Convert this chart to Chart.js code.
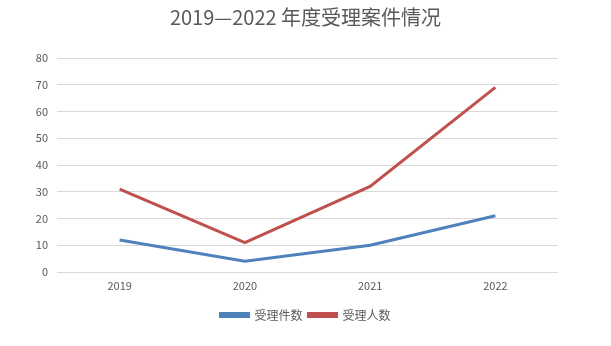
<!DOCTYPE html>
<html>
<head>
<meta charset="utf-8">
<script src="https://cdn.jsdelivr.net/npm/chart.js@4/dist/chart.umd.min.js"></script>
<style>
  html, body { margin: 0; padding: 0; background: #fff; }
  #wrap { width: 611px; height: 346px; }
</style>
</head>
<body>
<div id="wrap"><canvas id="caseChart" width="611" height="346"></canvas></div>
<script>
var years = ["2019", "2020", "2021", "2022"];
var caseCount = [12, 4, 10, 21];
var personCount = [31, 11, 32, 69];
var yTicks = [0, 10, 20, 30, 40, 50, 60, 70, 80];

var fontFamily = "'Noto Sans CJK SC', 'Noto Sans', sans-serif";

new Chart("caseChart", {
    type: "line",
    data: {
        labels: years,
        datasets: [{
            label: "受理件数",
            data: caseCount,
            borderColor: "#4F81BD",
            backgroundColor: "#4F81BD",
            borderWidth: 3,
            pointRadius: 0,
            tension: 0,
            fill: false
        }, {
            label: "受理人数",
            data: personCount,
            borderColor: "#C0504D",
            backgroundColor: "#C0504D",
            borderWidth: 3,
            pointRadius: 0,
            tension: 0,
            fill: false
        }]
    },
    options: {
        responsive: false,
        animation: false,
        layout: {
            padding: { left: 0, right: 0, top: 0, bottom: 15 }
        },
        plugins: {
            title: {
                display: true,
                text: "2019—2022 年度受理案件情况",
                color: "#595959",
                font: { family: fontFamily, size: 20, weight: "normal" },
                padding: { top: 5, bottom: 29 }
            },
            legend: {
                display: true,
                position: "bottom",
                labels: {
                    color: "#595959",
                    font: { family: fontFamily, size: 12 },
                    boxWidth: 28,
                    boxHeight: 3,
                    padding: 6
                }
            },
            tooltip: { enabled: false }
        },
        scales: {
            x: {
                offset: true,
                afterFit: function (scale) { scale.height = 31; },
                grid: { display: false, drawTicks: false },
                border: { display: false },
                ticks: {
                    color: "#595959",
                    font: { family: fontFamily, size: 11 },
                    padding: 7
                }
            },
            y: {
                min: 0,
                max: 80,
                afterFit: function (scale) { scale.width = 57; },
                afterBuildTicks: function (scale) {
                    scale.ticks = yTicks.map(function (v) { return { value: v }; });
                },
                grid: { color: "#D9D9D9", lineWidth: 1, drawTicks: false },
                border: { display: false },
                ticks: {
                    color: "#595959",
                    font: { family: fontFamily, size: 11 },
                    padding: 9
                }
            },
            // empty right-hand margin so the plot ends where the gridlines stop
            yRight: {
                position: "right",
                min: 0,
                max: 80,
                afterFit: function (scale) { scale.width = 53; },
                grid: { display: false, drawTicks: false },
                border: { display: false },
                ticks: { display: false }
            }
        }
    }
});
</script>
</body>
</html>
